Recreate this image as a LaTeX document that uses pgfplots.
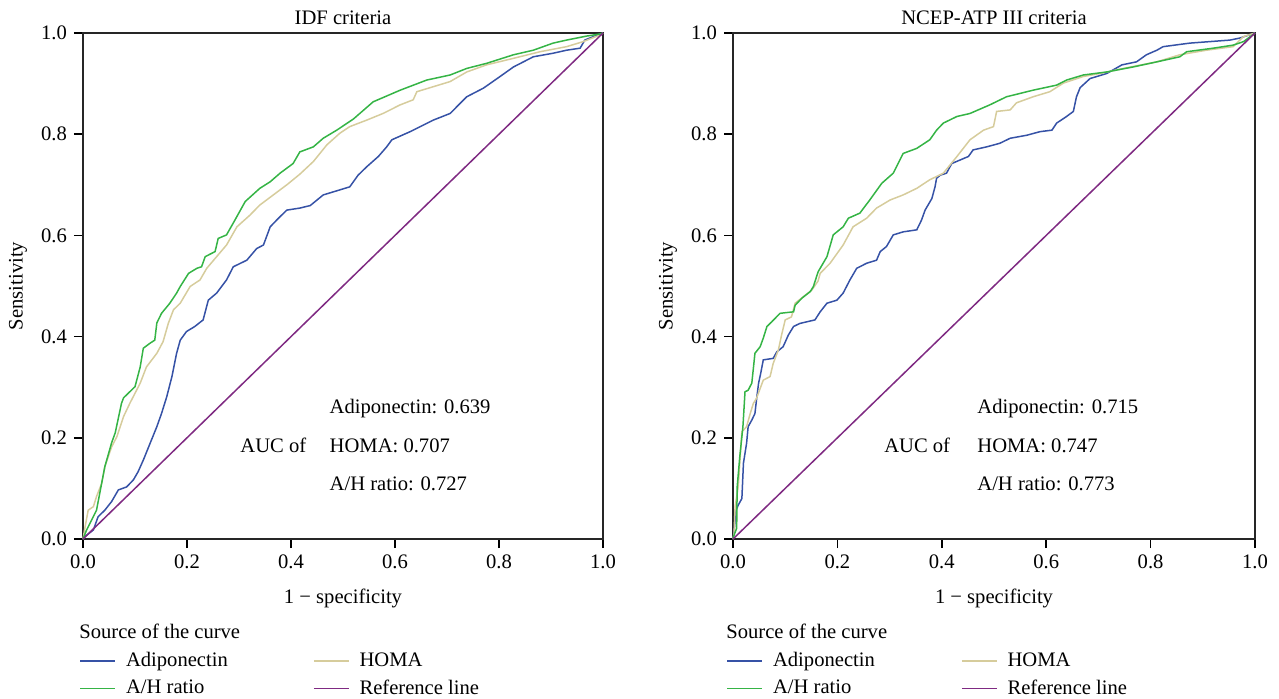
\documentclass[border=0pt]{standalone}
\usepackage{fontspec}
\setmainfont{Liberation Serif}
\usepackage{pgfplots}
\pgfplotsset{compat=1.18}
\definecolor{cblue}{HTML}{3652A6}
\definecolor{cgreen}{HTML}{35B445}
\definecolor{ctan}{HTML}{D6CC9C}
\definecolor{cpurple}{HTML}{7F2A82}
\newcommand{\fs}{\fontsize{10.3}{12}\selectfont}
\tikzset{lbl/.style={anchor=base west, inner sep=0pt, font=\fs}}
\pgfplotsset{
 rocax/.style={
  scale only axis, height=253pt,
  xmin=0,xmax=1,ymin=0,ymax=1,
  xtick={0,0.2,0.4,0.6,0.8,1}, ytick={0,0.2,0.4,0.6,0.8,1},
  /pgf/number format/fixed, /pgf/number format/fixed zerofill, /pgf/number format/precision=1, /pgf/number format/assume math mode=true,
  tick align=outside, tick pos=left, major tick length=4.5pt,
  axis line style={black!85, line width=0.9pt},
  every tick/.style={black, line width=0.8pt},
  ticklabel style={font=\fs},
  clip=false,
  title style={at={(0.5,1)}, anchor=base, yshift=-1.5pt, font=\fs},
  xlabel style={at={(axis description cs:0.5,-0.1265)}, anchor=base, font=\fs},
  ylabel style={anchor=center, font=\fs},
  legend columns=2,
  legend style={draw=none, fill=none, inner sep=0pt, anchor=north west, font=\fs, row sep=1pt},
  legend cell align=left,
  legend image code/.code={\draw[##1, line width=0.9pt] (0pt,0pt) -- (17.5pt,0pt); \path (20.5pt,0pt);},
 }
}
\begin{document}
\begin{tikzpicture}
\useasboundingbox (0,0) rectangle (639.5pt,349pt);
% ---------------- Left: IDF ----------------
\begin{axis}[rocax, width=260pt, at={(41.5pt,79.5pt)}, anchor=south west,
  title={IDF criteria}, xlabel={1 − specificity}, ylabel={Sensitivity},
  ylabel style={at={(axis description cs:-0.125,0.5)}},
  legend style={at={(axis description cs:-0.0077,-0.2154)}, /tikz/every even column/.append style={column sep=40.5pt}}]
\addplot[cblue, line width=0.75pt] coordinates {(0,0) (0.004,0.005) (0.02,0.018) (0.029,0.044) (0.042,0.057) (0.055,0.074) (0.068,0.097) (0.084,0.103) (0.097,0.117) (0.106,0.133) (0.116,0.156) (0.129,0.189) (0.142,0.222) (0.151,0.248) (0.161,0.281) (0.171,0.321) (0.180,0.367) (0.187,0.393) (0.199,0.410) (0.215,0.420) (0.231,0.433) (0.241,0.472) (0.257,0.486) (0.276,0.512) (0.289,0.538) (0.315,0.551) (0.334,0.574) (0.347,0.581) (0.36,0.617) (0.376,0.634) (0.392,0.650) (0.417,0.654) (0.437,0.659) (0.462,0.680) (0.494,0.690) (0.513,0.696) (0.529,0.719) (0.546,0.736) (0.568,0.756) (0.584,0.775) (0.594,0.789) (0.629,0.805) (0.674,0.828) (0.706,0.841) (0.738,0.874) (0.770,0.891) (0.802,0.914) (0.828,0.933) (0.866,0.953) (0.904,0.960) (0.930,0.966) (0.956,0.970) (0.965,0.986) (0.994,0.998) (1,1)};
\addlegendentry{Adiponectin}
\addplot[ctan, line width=0.75pt] coordinates {(0,0) (0.004,0.024) (0.010,0.057) (0.02,0.064) (0.026,0.084) (0.036,0.110) (0.042,0.143) (0.055,0.182) (0.065,0.202) (0.078,0.242) (0.09,0.268) (0.11,0.308) (0.122,0.34) (0.142,0.367) (0.154,0.39) (0.164,0.426) (0.174,0.453) (0.187,0.466) (0.206,0.499) (0.225,0.512) (0.238,0.535) (0.257,0.558) (0.276,0.581) (0.296,0.617) (0.321,0.640) (0.34,0.660) (0.366,0.68) (0.392,0.700) (0.417,0.721) (0.443,0.746) (0.469,0.779) (0.494,0.802) (0.513,0.815) (0.546,0.828) (0.577,0.841) (0.61,0.858) (0.635,0.868) (0.642,0.884) (0.674,0.894) (0.706,0.904) (0.738,0.923) (0.776,0.937) (0.828,0.950) (0.879,0.963) (0.93,0.973) (0.962,0.983) (0.994,0.996) (1,1)};
\addlegendentry{HOMA}
\addplot[cgreen, line width=0.75pt] coordinates {(0,0) (0.007,0.018) (0.026,0.057) (0.042,0.143) (0.055,0.19) (0.062,0.21) (0.074,0.268) (0.078,0.279) (0.09,0.291) (0.1,0.301) (0.11,0.34) (0.116,0.377) (0.129,0.387) (0.138,0.393) (0.142,0.427) (0.151,0.446) (0.167,0.466) (0.18,0.486) (0.187,0.499) (0.203,0.525) (0.219,0.535) (0.228,0.538) (0.235,0.558) (0.254,0.568) (0.26,0.594) (0.276,0.601) (0.292,0.630) (0.312,0.667) (0.34,0.693) (0.36,0.706) (0.379,0.723) (0.404,0.742) (0.417,0.765) (0.443,0.775) (0.462,0.792) (0.488,0.808) (0.52,0.830) (0.558,0.864) (0.61,0.887) (0.661,0.907) (0.706,0.917) (0.738,0.930) (0.776,0.940) (0.828,0.957) (0.866,0.966) (0.904,0.980) (0.930,0.986) (0.969,0.994) (0.994,0.998) (1,1)};
\addlegendentry{A/H ratio}
\addplot[cpurple, line width=0.75pt] coordinates {(0,0) (1,1)};
\addlegendentry{Reference line}
\node[lbl] at (axis description cs:-0.0077,-0.1976) {Source of the curve};
\node[lbl] at (axis cs:0.302,0.1706) {AUC of};
\node[lbl] at (axis cs:0.4737,0.249) {Adiponectin: 0.639};
\node[lbl] at (axis cs:0.4737,0.1706) {HOMA: 0.707};
\node[lbl] at (axis cs:0.4737,0.0949) {A/H ratio: 0.727};
\end{axis}
% ---------------- Right: NCEP-ATP III ----------------
\begin{axis}[rocax, width=261pt, at={(366.5pt,79.5pt)}, anchor=south west,
  title={NCEP-ATP III criteria}, xlabel={1 − specificity}, ylabel={Sensitivity},
  ylabel style={at={(axis description cs:-0.1245,0.5)}},
  legend style={at={(axis description cs:-0.0134,-0.2154)}, /tikz/every even column/.append style={column sep=41pt}}]
\addplot[cblue, line width=0.75pt] coordinates {(0,0) (0.001,0.005) (0.006,0.057) (0.010,0.067) (0.017,0.080) (0.020,0.150) (0.026,0.189) (0.029,0.222) (0.036,0.235) (0.042,0.248) (0.045,0.275) (0.049,0.308) (0.053,0.327) (0.058,0.354) (0.077,0.357) (0.084,0.370) (0.096,0.380) (0.106,0.403) (0.116,0.420) (0.128,0.426) (0.157,0.433) (0.167,0.449) (0.180,0.466) (0.199,0.472) (0.211,0.486) (0.224,0.512) (0.237,0.535) (0.256,0.545) (0.275,0.551) (0.282,0.568) (0.294,0.578) (0.307,0.601) (0.326,0.607) (0.352,0.611) (0.361,0.630) (0.368,0.650) (0.381,0.673) (0.387,0.696) (0.390,0.713) (0.397,0.719) (0.409,0.723) (0.419,0.742) (0.435,0.749) (0.451,0.756) (0.460,0.769) (0.486,0.775) (0.511,0.782) (0.531,0.792) (0.563,0.798) (0.588,0.805) (0.611,0.808) (0.620,0.822) (0.639,0.835) (0.652,0.845) (0.658,0.874) (0.665,0.892) (0.684,0.910) (0.716,0.920) (0.745,0.937) (0.773,0.943) (0.792,0.957) (0.812,0.966) (0.824,0.973) (0.875,0.980) (0.952,0.986) (0.971,0.990) (1,1)};
\addlegendentry{Adiponectin}
\addplot[ctan, line width=0.75pt] coordinates {(0,0) (0.002,0.011) (0.004,0.064) (0.010,0.103) (0.017,0.212) (0.026,0.222) (0.033,0.248) (0.039,0.268) (0.045,0.278) (0.058,0.314) (0.071,0.321) (0.077,0.347) (0.087,0.374) (0.093,0.403) (0.100,0.433) (0.112,0.439) (0.119,0.466) (0.135,0.479) (0.151,0.492) (0.163,0.510) (0.167,0.525) (0.186,0.545) (0.211,0.581) (0.230,0.617) (0.256,0.634) (0.275,0.654) (0.301,0.670) (0.326,0.680) (0.352,0.693) (0.377,0.710) (0.403,0.723) (0.429,0.756) (0.454,0.789) (0.480,0.808) (0.499,0.815) (0.505,0.845) (0.531,0.848) (0.543,0.862) (0.575,0.874) (0.607,0.884) (0.633,0.901) (0.671,0.914) (0.703,0.920) (0.748,0.930) (0.812,0.943) (0.856,0.957) (0.907,0.966) (0.958,0.973) (0.978,0.993) (1,1)};
\addlegendentry{HOMA}
\addplot[cgreen, line width=0.75pt] coordinates {(0,0) (0.001,0.005) (0.007,0.021) (0.008,0.103) (0.013,0.163) (0.019,0.222) (0.023,0.291) (0.029,0.294) (0.036,0.308) (0.039,0.337) (0.042,0.367) (0.052,0.380) (0.058,0.397) (0.065,0.420) (0.074,0.429) (0.090,0.446) (0.116,0.449) (0.119,0.462) (0.132,0.476) (0.148,0.489) (0.154,0.499) (0.163,0.528) (0.180,0.558) (0.192,0.601) (0.211,0.617) (0.221,0.634) (0.243,0.644) (0.262,0.670) (0.285,0.703) (0.307,0.723) (0.326,0.762) (0.352,0.772) (0.377,0.789) (0.390,0.808) (0.403,0.822) (0.429,0.835) (0.454,0.841) (0.492,0.858) (0.524,0.874) (0.575,0.887) (0.620,0.897) (0.639,0.907) (0.671,0.917) (0.716,0.923) (0.767,0.933) (0.812,0.943) (0.856,0.953) (0.869,0.963) (0.920,0.970) (0.958,0.976) (0.978,0.983) (1,1)};
\addlegendentry{A/H ratio}
\addplot[cpurple, line width=0.75pt] coordinates {(0,0) (1,1)};
\addlegendentry{Reference line}
\node[lbl] at (axis description cs:-0.0134,-0.1976) {Source of the curve};
\node[lbl] at (axis cs:0.289,0.1706) {AUC of};
\node[lbl] at (axis cs:0.4674,0.249) {Adiponectin: 0.715};
\node[lbl] at (axis cs:0.4674,0.1706) {HOMA: 0.747};
\node[lbl] at (axis cs:0.4674,0.0949) {A/H ratio: 0.773};
\end{axis}
\end{tikzpicture}
\end{document}
